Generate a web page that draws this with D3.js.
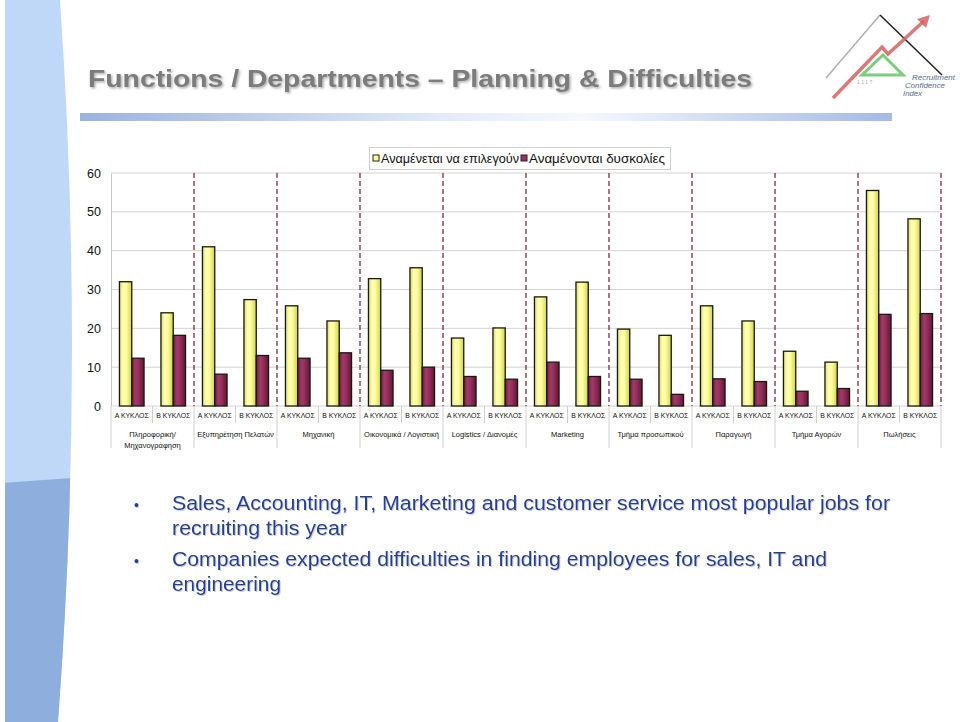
<!DOCTYPE html>
<html>
<head>
<meta charset="utf-8">
<script src="https://cdn.jsdelivr.net/npm/d3@7"></script>
<style>
  html, body { margin: 0; padding: 0; background: #fff; }
  svg { display: block; }
</style>
</head>
<body>
<div id="chart"></div>
<script>
// ---------------- DATA ----------------
const groups = ["Πληροφορική/|Μηχανογράφηση", "Εξυπηρέτηση Πελατών", "Μηχανική", "Οικονομικά / Λογιστική",
  "Logistics / Διανομές", "Marketing", "Τμήμα προσωπικού", "Παραγωγή", "Τμήμα Αγορών", "Πωλήσεις"];
const rounds = ["Α ΚΥΚΛΟΣ", "Β ΚΥΚΛΟΣ"];
const seriesNames = ["Αναμένεται να επιλεγούν", "Αναμένονται δυσκολίες"];
// values per group: [Α ΚΥΚΛΟΣ, Β ΚΥΚΛΟΣ]
const expectedHire = [[32, 24], [41, 27.4], [25.8, 21.9], [32.8, 35.6], [17.5, 20.1],
  [28.1, 31.9], [19.8, 18.2], [25.8, 21.9], [14.1, 11.3], [55.5, 48.2]];
const expectedDifficulty = [[12.3, 18.2], [8.2, 13.0], [12.3, 13.7], [9.2, 10.0], [7.6, 6.9],
  [11.3, 7.6], [6.9, 3.0], [7.0, 6.3], [3.8, 4.5], [23.6, 23.8]];
const yTicks = [0, 10, 20, 30, 40, 50, 60];
const title = "Functions /  Departments \u2013 Planning & Difficulties";
const bullets = [
  ["Sales, Accounting, IT, Marketing and customer service most popular jobs for", "recruiting this year"],
  ["Companies expected difficulties in finding employees for sales, IT and", "engineering"]
];

// ---------------- LAYOUT ----------------
const W = 960, H = 722;
const svg = d3.select("#chart").append("svg").attr("width", W).attr("height", H);
const defs = svg.append("defs");

// Left decorative band
defs.append("clipPath").attr("id", "bandClip").append("path")
  .attr("d", "M5,0 L60,0 Q85,360 58,722 L5,722 Z");
const band = svg.append("g").attr("clip-path", "url(#bandClip)");
band.append("rect").attr("x", 0).attr("y", 0).attr("width", 100).attr("height", H).attr("fill", "#bfd8f8");
band.append("path").attr("d", "M0,483 L100,476 L100,722 L0,722 Z").attr("fill", "#8eaede");

// Title with soft shadow
const sh = defs.append("filter").attr("id", "tshadow").attr("x", "-5%").attr("y", "-30%").attr("width", "110%").attr("height", "160%");
sh.append("feDropShadow").attr("dx", 1.5).attr("dy", 1.5).attr("stdDeviation", 1.2).attr("flood-color", "#9a9a9a").attr("flood-opacity", 0.8);
svg.append("text").attr("x", 88).attr("y", 87)
  .attr("font-family", "Liberation Sans, Arial, sans-serif").attr("font-weight", "bold")
  .attr("font-size", 24).attr("fill", "#7b7b7b")
  .attr("textLength", 664).attr("lengthAdjust", "spacingAndGlyphs")
  .attr("filter", "url(#tshadow)").text(title);

// Title gradient bar
const tg = defs.append("linearGradient").attr("id", "titleBar").attr("x1", "0%").attr("x2", "100%");
[[0, "#9bb3df"], [0.45, "#e4ebf8"], [0.62, "#f6f8fd"], [1, "#a3b9e5"]].forEach(([o, c]) =>
  tg.append("stop").attr("offset", o).attr("stop-color", c));
svg.append("rect").attr("x", 80).attr("y", 113).attr("width", 812).attr("height", 8).attr("fill", "url(#titleBar)");

// Logo
const logo = svg.append("g");
logo.append("line").attr("x1", 826).attr("y1", 78).attr("x2", 880).attr("y2", 15).attr("stroke", "#b0b0b0").attr("stroke-width", 1.5);
logo.append("line").attr("x1", 880).attr("y1", 15).attr("x2", 942).attr("y2", 75).attr("stroke", "#222").attr("stroke-width", 1.5);
logo.append("path").attr("d", "M883,55 L862,75 L903,75 Z").attr("fill", "none").attr("stroke", "#5cbf5c").attr("stroke-width", 3).attr("stroke-opacity", 0.8);
logo.append("path").attr("d", "M833,98 L882,47 L888,54 L924,21").attr("fill", "none").attr("stroke", "#d56060").attr("stroke-width", 3.5).attr("stroke-opacity", 0.85);
logo.append("path").attr("d", "M930,15 L917,19 L926,28 Z").attr("fill", "#d56060").attr("fill-opacity", 0.85);
logo.append("text").attr("x", 857).attr("y", 84).attr("font-size", 5).attr("fill", "#aaa").attr("font-family", "Liberation Sans").text("1 1 1 7");
[["Recruitment", 912, 80, 43], ["Confidence", 905, 88, 40], ["Index", 903, 96, 19]].forEach(([t, x, y, w]) =>
  logo.append("text").attr("x", x).attr("y", y).attr("font-size", 6.5).attr("font-style", "italic")
    .attr("textLength", w).attr("lengthAdjust", "spacingAndGlyphs")
    .attr("fill", "#5a6a8a").attr("font-family", "Liberation Sans").text(t));

// ---------------- CHART ----------------
const plotL = 111, plotR = 941, plotT = 173, plotB = 406;
const subCats = [];
groups.forEach((g, gi) => rounds.forEach((r, ri) => subCats.push({ gi, ri, key: gi + "_" + ri, round: r })));

const x = d3.scaleBand().domain(subCats.map(d => d.key)).range([plotL, plotR]).padding(0);
const xg = d3.scaleBand().domain(groups).range([plotL, plotR]).padding(0);
const y = d3.scaleLinear().domain([0, 60]).range([plotB, plotT]);
const bw = x.bandwidth();
const xs = d3.scaleBand().domain([0, 1]).range([bw / 2 - 12.3, bw / 2 + 12.3]).padding(0);

// gridlines
svg.append("g").selectAll("line").data(yTicks).join("line")
  .attr("x1", plotL).attr("x2", plotR).attr("y1", d => y(d)).attr("y2", d => y(d))
  .attr("stroke", "#d4d4d4").attr("stroke-width", 1);

// dashed group separators
svg.append("g").selectAll("line").data(groups).join("line")
  .attr("x1", d => xg(d) + xg.bandwidth()).attr("x2", d => xg(d) + xg.bandwidth())
  .attr("y1", plotT).attr("y2", plotB)
  .attr("stroke", "#7a1a2a").attr("stroke-width", 1.2).attr("stroke-dasharray", "5,3");

// y axis
const yAxis = d3.axisLeft(y).tickValues(yTicks).tickSize(0).tickPadding(10);
const ya = svg.append("g").attr("transform", `translate(${plotL},0)`).call(yAxis);
ya.select(".domain").attr("stroke", "#c8c8c8");
ya.selectAll("text").attr("font-family", "Liberation Sans, Arial, sans-serif").attr("font-size", 12.5).attr("fill", "#111");

// gradients for bars
function barGrad(id, stops) {
  const g = defs.append("linearGradient").attr("id", id).attr("x1", "0%").attr("x2", "100%");
  stops.forEach(([o, c]) => g.append("stop").attr("offset", o).attr("stop-color", c));
}
barGrad("gYellow", [[0, "#d9d96a"], [0.3, "#ffffb8"], [0.55, "#ffff9a"], [1, "#cfcf5a"]]);
barGrad("gPurple", [[0, "#6e1a42"], [0.3, "#a23a68"], [0.55, "#93305c"], [1, "#621538"]]);
const fills = ["url(#gYellow)", "url(#gPurple)"];
const allSeries = [expectedHire, expectedDifficulty];

const bars = [];
subCats.forEach(sc => allSeries.forEach((s, si) => bars.push({ sc, si, v: s[sc.gi][sc.ri] })));
svg.append("g").selectAll("rect").data(bars).join("rect")
  .attr("x", d => x(d.sc.key) + xs(d.si))
  .attr("y", d => y(d.v))
  .attr("width", xs.bandwidth())
  .attr("height", d => y(0) - y(d.v))
  .attr("fill", d => fills[d.si])
  .attr("stroke", "#1a1a0c").attr("stroke-width", 1.3);

// category axis: sub labels and separators
const cat = svg.append("g");
cat.selectAll("line.sub").data(subCats).join("line").attr("class", "sub")
  .attr("x1", d => x(d.key)).attr("x2", d => x(d.key))
  .attr("y1", plotB).attr("y2", d => d.ri === 0 ? 448 : 423)
  .attr("stroke", "#d0d0d0");
cat.append("line").attr("x1", plotR).attr("x2", plotR).attr("y1", plotB).attr("y2", 448).attr("stroke", "#d0d0d0");
cat.selectAll("text.sub").data(subCats).join("text").attr("class", "sub")
  .attr("x", d => x(d.key) + bw / 2).attr("y", 418)
  .attr("text-anchor", "middle").attr("font-family", "Liberation Sans, Arial, sans-serif")
  .attr("font-size", 7.5).attr("textLength", 34).attr("lengthAdjust", "spacingAndGlyphs")
  .attr("fill", "#111").text(d => d.round);
cat.selectAll("text.grp").data(groups).join("text").attr("class", "grp")
  .attr("x", d => xg(d) + xg.bandwidth() / 2).attr("y", 437)
  .attr("text-anchor", "middle").attr("font-family", "Liberation Sans, Arial, sans-serif")
  .attr("font-size", 7.5).attr("fill", "#111")
  .each(function (d) {
    const parts = d.split("|");
    d3.select(this).selectAll("tspan").data(parts).join("tspan")
      .attr("x", xg(d) + xg.bandwidth() / 2).attr("dy", (p, i) => i === 0 ? 0 : 11).text(p => p);
  });

// legend
const lg = svg.append("g");
lg.append("rect").attr("x", 369.5).attr("y", 147.5).attr("width", 301).attr("height", 22)
  .attr("fill", "#fff").attr("stroke", "#cfcfcf");
const legX = [373, 521];
const legW = [138, 136];
seriesNames.forEach((n, i) => {
  lg.append("rect").attr("x", legX[i]).attr("y", 155).attr("width", 6).attr("height", 6)
    .attr("fill", i === 0 ? "#ffff99" : "#993366").attr("stroke", "#222").attr("stroke-width", 1);
  lg.append("text").attr("x", legX[i] + 8).attr("y", 163).attr("font-family", "Liberation Sans, Arial, sans-serif")
    .attr("font-size", 13).attr("textLength", legW[i]).attr("lengthAdjust", "spacingAndGlyphs")
    .attr("fill", "#111").text(n);
});

// bullets
const bsh = defs.append("filter").attr("id", "bshadow");
bsh.append("feDropShadow").attr("dx", 1).attr("dy", 1).attr("stdDeviation", 0.6).attr("flood-color", "#aab").attr("flood-opacity", 0.6);
const bl = svg.append("g").attr("font-family", "Liberation Sans, Arial, sans-serif").attr("font-size", 20.5)
  .attr("fill", "#243f8f").attr("filter", "url(#bshadow)");
const lineY = [[510, 535], [566, 591]];
const lineW = [[718, 175], [655, 109]];
bullets.forEach((b, bi) => {
  bl.append("text").attr("x", 134).attr("y", lineY[bi][0]).attr("font-size", 14).text("\u2022");
  b.forEach((t, li) => bl.append("text").attr("x", 172).attr("y", lineY[bi][li])
    .attr("textLength", lineW[bi][li]).attr("lengthAdjust", "spacingAndGlyphs").text(t));
});
</script>
</body>
</html>
